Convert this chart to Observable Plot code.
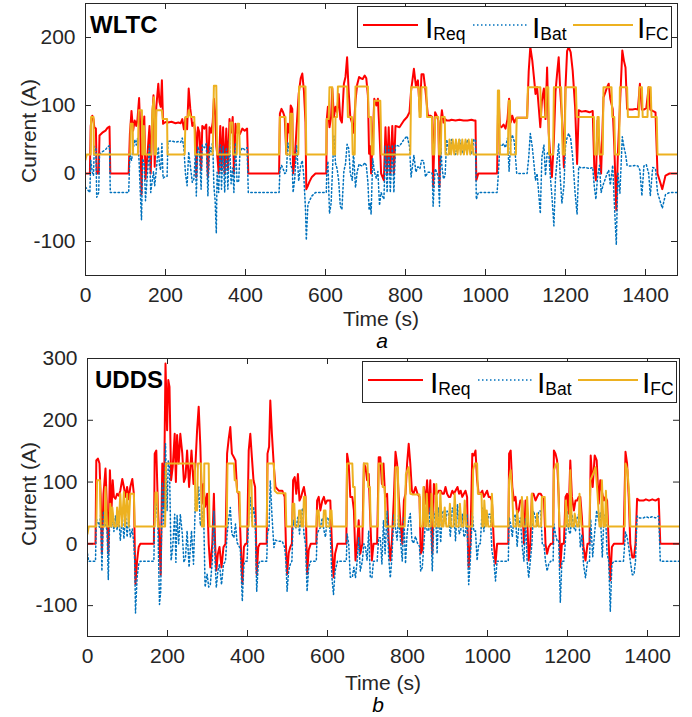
<!DOCTYPE html>
<html><head><meta charset="utf-8">
<script src="https://cdn.jsdelivr.net/npm/d3@7"></script>
<script src="https://cdn.jsdelivr.net/npm/@observablehq/plot@0.6"></script>
<style>
body{margin:0;background:#fff;}
#wrap{position:relative;width:692px;height:717px;overflow:hidden;background:#fff;}
</style></head><body><div id="wrap"></div>
<script>
// ---------- data (time s, current A) ----------
const xTicks = [0,200,400,600,800,1000,1200,1400];
const wltcYTicks = [-100,0,100,200];
const uddsYTicks = [-100,0,100,200,300];
const seriesNames = ["Req","Bat","FC"];
const panelTitles = ["WLTC","UDDS"];
const panelCaptions = ["a","b"];

const wltcReq = [[0,0],[11,0],[13,70],[17,85],[20,80],[22,68],[26,66],[28,0],[33,0],[35,56],[42,60],[50,63],[55,67],[60,69],[62,0],[108,0],[111,58],[115,92],[119,63],[123,78],[127,70],[130,80],[134,111],[137,65],[140,-30],[143,50],[147,84],[150,-8],[154,20],[160,70],[163,0],[167,83],[170,115],[173,10],[177,98],[182,132],[185,105],[188,98],[191,137],[194,73],[198,75],[204,76],[206,75],[215,76],[225,74],[232,75],[238,74],[242,80],[246,65],[250,82],[254,65],[258,125],[262,95],[267,70],[271,75],[275,60],[277,-5],[281,68],[285,60],[289,5],[292,70],[297,66],[302,72],[306,-5],[310,68],[314,60],[318,75],[321,110],[324,90],[327,40],[329,30],[333,0],[337,70],[340,5],[344,68],[348,0],[352,66],[356,5],[360,80],[364,60],[368,83],[371,0],[375,73],[379,60],[383,62],[386,58],[392,66],[398,63],[404,66],[407,0],[484,0],[486,88],[490,95],[494,90],[498,83],[502,29],[506,73],[510,60],[513,100],[517,95],[519,0],[523,20],[528,70],[533,117],[538,140],[542,147],[546,122],[550,75],[552,-23],[556,-18],[560,-12],[566,-5],[575,0],[602,0],[603,78],[606,98],[610,68],[614,83],[617,125],[621,83],[625,98],[629,90],[633,117],[637,80],[641,75],[646,132],[650,142],[654,171],[658,120],[662,83],[667,73],[670,60],[675,107],[679,130],[684,142],[688,140],[693,139],[698,144],[702,140],[706,115],[709,29],[712,40],[714,0],[718,50],[722,110],[727,100],[731,110],[735,60],[739,0],[746,-10],[750,68],[754,0],[758,68],[762,0],[767,70],[771,0],[775,70],[785,68],[796,78],[804,83],[810,90],[814,122],[821,154],[826,129],[831,137],[836,90],[840,146],[845,146],[850,122],[856,85],[862,85],[867,83],[869,-20],[874,90],[878,85],[882,78],[885,-20],[888,75],[891,93],[895,75],[899,80],[903,78],[910,78],[915,79],[925,78],[935,79],[945,78],[955,78],[965,79],[971,78],[975,78],[977,-10],[982,0],[1029,0],[1032,120],[1036,70],[1040,68],[1045,72],[1050,66],[1055,80],[1059,110],[1063,75],[1067,85],[1072,75],[1078,82],[1090,82],[1104,82],[1108,150],[1112,186],[1117,166],[1121,142],[1125,117],[1129,127],[1133,98],[1137,68],[1141,107],[1146,125],[1150,80],[1154,156],[1158,60],[1162,24],[1166,-5],[1171,50],[1175,120],[1179,147],[1183,171],[1187,120],[1191,83],[1196,9],[1200,127],[1204,180],[1208,186],[1213,178],[1218,151],[1224,98],[1229,14],[1233,93],[1240,91],[1250,92],[1260,90],[1268,92],[1272,9],[1276,-10],[1280,78],[1285,40],[1289,0],[1295,112],[1300,120],[1304,127],[1308,132],[1312,110],[1318,95],[1322,40],[1327,-54],[1331,30],[1336,98],[1342,181],[1346,166],[1350,156],[1354,95],[1360,94],[1368,94],[1375,95],[1381,94],[1386,132],[1391,94],[1396,94],[1402,96],[1408,127],[1412,94],[1418,92],[1425,90],[1430,0],[1442,-23],[1450,-3],[1460,0],[1480,0]];

const wltcBat = [[0,-20],[11,-28],[13,20],[17,2],[20,-3],[22,40],[26,38],[28,-35],[33,-28],[35,28],[42,32],[50,35],[55,39],[60,41],[62,-28],[108,-28],[111,30],[115,19],[119,35],[123,50],[127,42],[130,52],[134,18],[137,-28],[140,-68],[143,22],[147,14],[150,-40],[154,-8],[160,42],[163,-28],[167,-10],[170,3],[173,-18],[177,5],[182,39],[185,12],[188,5],[191,44],[194,-7],[198,-5],[204,-4],[206,47],[215,48],[225,46],[232,47],[238,46],[242,52],[246,37],[250,-1],[254,-18],[258,32],[262,12],[267,-13],[271,-8],[275,32],[277,-33],[281,40],[285,32],[289,-23],[292,42],[297,38],[302,44],[306,-33],[310,40],[314,32],[318,47],[321,-19],[324,-39],[327,-88],[329,2],[333,-28],[337,42],[340,-23],[344,40],[348,-28],[352,38],[356,-23],[360,52],[364,-15],[368,8],[371,-28],[375,45],[379,-13],[383,-11],[386,30],[392,38],[398,35],[404,38],[407,-28],[484,-28],[486,5],[490,12],[494,7],[498,0],[502,1],[506,45],[510,32],[513,12],[517,7],[519,-28],[523,-8],[528,42],[533,-11],[538,12],[542,19],[546,-6],[550,-53],[552,-98],[556,-46],[560,-40],[566,-33],[575,-28],[602,-28],[603,-2],[606,18],[610,-59],[614,-44],[617,-2],[621,55],[625,15],[629,7],[633,-11],[637,-48],[641,-53],[646,4],[650,14],[654,43],[658,37],[662,0],[667,-10],[670,32],[675,-21],[679,2],[684,14],[688,12],[693,11],[698,16],[702,12],[706,-13],[709,-54],[712,-43],[714,-60],[718,22],[722,3],[727,-7],[731,3],[735,-47],[739,-28],[746,-38],[750,40],[754,-28],[758,40],[762,-28],[767,42],[771,-28],[775,42],[785,40],[796,50],[804,55],[810,40],[814,-5],[821,27],[826,2],[831,10],[836,7],[840,19],[845,19],[850,-5],[856,2],[862,2],[867,0],[869,-48],[874,7],[878,2],[882,-5],[885,-48],[888,47],[891,10],[895,-8],[899,-3],[903,50],[910,28],[915,50],[925,28],[935,50],[945,28],[955,50],[965,28],[971,50],[975,50],[977,-38],[982,-28],[1029,-28],[1032,-2],[1036,42],[1040,40],[1045,44],[1050,38],[1055,52],[1059,3],[1063,47],[1067,57],[1072,47],[1078,0],[1090,0],[1104,0],[1108,23],[1112,59],[1117,39],[1121,15],[1125,-10],[1129,0],[1133,-29],[1137,-59],[1141,24],[1146,42],[1150,-3],[1154,29],[1158,32],[1162,-4],[1166,-33],[1171,-77],[1175,-7],[1179,20],[1183,44],[1187,-7],[1191,-44],[1196,-19],[1200,40],[1204,53],[1208,59],[1213,51],[1218,24],[1224,-29],[1229,-60],[1233,10],[1240,8],[1250,9],[1260,7],[1268,9],[1272,-19],[1276,-38],[1280,-5],[1285,12],[1289,-28],[1295,-15],[1300,-7],[1304,0],[1308,5],[1312,-17],[1318,12],[1322,-43],[1327,-105],[1331,2],[1336,-29],[1342,54],[1346,39],[1350,29],[1354,12],[1360,11],[1368,11],[1375,12],[1381,11],[1386,5],[1391,-33],[1396,11],[1402,13],[1408,0],[1412,-33],[1418,9],[1425,7],[1430,-28],[1442,-51],[1450,-31],[1460,-28],[1480,-28]];

const wltcFc = [[0,20],[3,28],[13,28],[14,83],[20,83],[21,28],[112,28],[113,73],[118,73],[119,28],[131,28],[133,93],[141,93],[142,28],[145,28],[146,70],[149,28],[165,28],[167,93],[171,112],[173,28],[176,28],[177,93],[191,93],[193,80],[204,80],[205,28],[248,28],[250,83],[256,83],[258,93],[263,83],[272,83],[274,28],[318,28],[321,129],[327,129],[329,28],[360,28],[362,75],[367,75],[369,28],[378,28],[380,73],[384,73],[386,28],[484,28],[486,83],[500,83],[502,28],[511,28],[512,88],[517,88],[518,28],[532,28],[534,128],[550,128],[552,28],[602,28],[603,80],[608,80],[610,127],[617,127],[619,28],[624,28],[625,83],[629,83],[631,128],[654,128],[656,83],[666,83],[668,28],[673,28],[675,128],[706,128],[708,83],[714,83],[716,28],[720,28],[722,107],[737,107],[740,28],[812,28],[814,127],[833,127],[835,83],[838,83],[840,127],[852,127],[854,83],[866,83],[868,28],[872,28],[874,83],[882,83],[884,28],[888,28],[890,83],[898,83],[900,28],[908,28],[910,50],[914,28],[918,50],[922,28],[926,50],[930,28],[934,50],[938,28],[942,50],[946,28],[950,50],[954,28],[958,50],[962,28],[966,50],[970,28],[1029,28],[1031,122],[1034,122],[1036,28],[1056,28],[1058,107],[1061,107],[1063,28],[1076,28],[1078,82],[1104,82],[1106,127],[1137,127],[1139,83],[1150,83],[1152,127],[1157,127],[1159,28],[1169,28],[1171,127],[1189,127],[1191,83],[1193,28],[1198,28],[1200,127],[1226,127],[1228,83],[1271,83],[1273,28],[1278,28],[1280,83],[1283,83],[1285,28],[1293,28],[1295,127],[1315,127],[1317,83],[1322,83],[1324,28],[1334,28],[1336,127],[1354,127],[1356,83],[1383,83],[1385,127],[1391,127],[1393,83],[1405,83],[1407,127],[1413,127],[1415,83],[1428,83],[1430,28],[1480,28]];

const uddsReq = [[0,0],[3,0],[20,0],[22,135],[26,138],[30,130],[33,76],[36,-16],[40,81],[45,122],[49,50],[52,-16],[56,119],[60,54],[63,103],[66,76],[70,73],[74,81],[78,78],[82,86],[87,105],[91,92],[95,76],[99,92],[103,72],[107,92],[112,105],[116,80],[118,0],[120,-65],[124,-27],[128,-5],[132,0],[166,0],[168,146],[172,151],[176,60],[180,0],[183,-50],[187,130],[191,60],[195,292],[199,184],[202,265],[205,254],[209,103],[213,124],[218,178],[221,100],[224,176],[228,130],[232,178],[237,146],[241,100],[245,108],[249,151],[254,92],[260,151],[265,97],[270,130],[274,184],[278,222],[282,160],[286,65],[290,97],[294,60],[299,81],[303,0],[307,-38],[312,0],[316,81],[319,0],[322,-43],[326,-16],[330,-5],[335,-38],[340,-5],[345,0],[349,146],[353,170],[357,189],[361,146],[366,140],[370,135],[374,86],[378,81],[382,20],[387,-65],[391,-5],[395,0],[399,0],[403,151],[407,178],[411,140],[415,103],[419,92],[423,-49],[427,-5],[431,0],[448,0],[450,146],[454,157],[457,232],[461,178],[466,124],[470,92],[478,86],[487,86],[493,76],[496,0],[499,-49],[503,-15],[507,-5],[511,0],[514,103],[518,108],[522,81],[526,113],[530,70],[534,76],[538,86],[541,92],[545,76],[549,-49],[553,-10],[558,0],[572,0],[574,70],[578,76],[582,54],[587,70],[591,76],[595,65],[599,70],[603,70],[607,70],[611,0],[615,-54],[619,-16],[625,0],[647,0],[649,146],[653,130],[657,76],[662,76],[666,54],[670,-27],[674,0],[678,38],[682,-16],[687,0],[691,130],[695,124],[699,103],[703,113],[707,38],[711,-27],[715,0],[724,0],[728,140],[732,140],[736,97],[740,130],[744,76],[749,81],[753,5],[757,-27],[761,5],[766,76],[770,149],[774,130],[778,76],[782,38],[787,0],[791,70],[795,81],[799,130],[803,162],[807,130],[811,86],[815,81],[820,92],[825,81],[830,76],[833,-16],[837,-10],[841,92],[845,65],[849,103],[853,49],[857,103],[862,-16],[866,97],[870,81],[874,81],[878,86],[883,86],[887,81],[891,81],[895,92],[899,81],[903,76],[907,76],[912,86],[916,81],[920,86],[925,92],[929,81],[933,86],[937,76],[941,81],[945,86],[949,76],[951,0],[953,-38],[957,0],[962,146],[966,143],[970,151],[974,103],[978,81],[982,81],[987,86],[991,76],[995,81],[999,86],[1003,76],[1007,76],[1011,70],[1016,0],[1020,-32],[1024,0],[1052,0],[1054,146],[1058,151],[1062,92],[1066,70],[1070,76],[1074,49],[1078,54],[1082,70],[1087,70],[1091,0],[1095,70],[1099,49],[1103,-27],[1107,0],[1111,81],[1115,81],[1120,70],[1124,76],[1128,81],[1133,81],[1137,76],[1141,76],[1145,0],[1149,-16],[1153,-5],[1158,0],[1164,0],[1166,151],[1170,146],[1174,135],[1178,76],[1182,-38],[1186,0],[1191,0],[1195,76],[1199,81],[1203,49],[1207,135],[1211,76],[1216,54],[1220,70],[1224,70],[1228,76],[1232,76],[1236,43],[1240,-5],[1245,-27],[1250,0],[1255,0],[1258,143],[1263,92],[1268,143],[1273,135],[1278,65],[1282,103],[1287,81],[1291,70],[1295,76],[1299,70],[1303,0],[1307,-59],[1311,-5],[1316,0],[1340,0],[1345,149],[1349,130],[1353,76],[1357,0],[1362,-22],[1366,-22],[1370,0],[1374,73],[1380,70],[1390,70],[1396,72],[1404,70],[1412,72],[1420,70],[1428,73],[1432,0],[1436,0],[1480,0]];

const uddsBat = [[0,-16],[3,-28],[20,-28],[22,40],[26,35],[30,27],[33,48],[36,-44],[40,53],[45,30],[49,22],[52,-58],[56,54],[60,26],[63,44],[66,20],[70,45],[74,22],[78,50],[82,5],[87,45],[91,8],[95,48],[99,11],[103,44],[107,11],[112,24],[116,-1],[118,-28],[120,-112],[124,-55],[128,-33],[132,-28],[166,-28],[168,63],[172,68],[176,32],[180,-98],[183,-78],[187,100],[191,32],[195,162],[199,54],[202,135],[205,124],[209,-27],[213,-6],[218,48],[221,-30],[224,46],[228,0],[232,48],[237,16],[241,-30],[245,-22],[249,21],[254,-38],[260,21],[265,-33],[270,76],[274,54],[278,92],[282,30],[286,37],[290,60],[294,-70],[299,-49],[303,-70],[307,-66],[312,-28],[316,53],[319,-28],[322,-71],[326,-44],[330,-33],[335,-66],[340,-33],[345,-28],[349,16],[353,40],[357,59],[361,16],[366,10],[370,32],[374,2],[378,-3],[382,-8],[387,-93],[391,-33],[395,-28],[399,-28],[403,48],[407,75],[411,37],[415,60],[419,40],[423,-77],[427,-33],[431,-28],[448,-28],[450,16],[454,27],[457,102],[461,48],[466,-6],[470,6],[478,4],[487,4],[493,-6],[496,-28],[499,-77],[503,-43],[507,-33],[511,-28],[514,38],[518,30],[522,25],[526,45],[530,16],[534,48],[538,58],[541,16],[545,0],[549,-77],[553,-38],[558,-28],[572,-28],[574,16],[578,22],[582,26],[587,42],[591,22],[595,11],[599,42],[603,42],[607,16],[611,-54],[615,-82],[619,-44],[625,-28],[647,-28],[649,16],[653,0],[657,-54],[662,-54],[666,-38],[670,-55],[674,-28],[678,10],[682,-44],[687,-28],[691,0],[695,-6],[699,-27],[703,21],[707,-54],[711,-55],[715,-28],[724,-28],[728,10],[732,10],[736,-33],[740,38],[744,-16],[749,53],[753,-23],[757,-55],[761,-23],[766,48],[770,25],[774,6],[778,48],[782,10],[787,-28],[791,42],[795,-32],[799,17],[803,38],[807,49],[811,6],[815,1],[820,12],[825,1],[830,-4],[833,-44],[837,-38],[841,0],[845,37],[849,22],[853,21],[857,60],[862,-44],[866,40],[870,53],[874,-16],[878,58],[883,2],[887,53],[891,53],[895,33],[899,53],[903,48],[907,11],[912,58],[916,53],[920,5],[925,64],[929,16],[933,21],[937,48],[941,11],[945,16],[949,48],[951,-28],[953,-66],[957,-28],[962,50],[966,20],[970,21],[974,-27],[978,0],[982,0],[987,58],[991,20],[995,53],[999,32],[1003,48],[1007,48],[1011,-11],[1016,-28],[1020,-60],[1024,-28],[1052,-28],[1054,43],[1058,32],[1062,11],[1066,42],[1070,48],[1074,-5],[1078,26],[1082,42],[1087,-6],[1091,-28],[1095,42],[1099,-27],[1103,-55],[1107,-28],[1111,0],[1115,53],[1120,42],[1124,27],[1128,53],[1133,53],[1137,0],[1141,0],[1145,-28],[1149,-44],[1153,-33],[1158,-28],[1164,-28],[1166,32],[1170,16],[1174,5],[1178,6],[1182,-95],[1186,-28],[1191,-28],[1195,6],[1199,53],[1203,21],[1207,16],[1211,48],[1216,26],[1220,21],[1224,42],[1228,48],[1232,-5],[1236,15],[1240,-33],[1245,-55],[1250,-28],[1255,-28],[1258,40],[1263,-21],[1268,19],[1273,54],[1278,37],[1282,50],[1287,-22],[1291,42],[1295,48],[1299,-16],[1303,-28],[1307,-110],[1311,-33],[1316,-28],[1340,-28],[1345,19],[1349,11],[1353,-5],[1357,-28],[1362,-50],[1366,-50],[1370,-28],[1374,45],[1380,42],[1390,42],[1396,44],[1404,42],[1412,44],[1420,42],[1428,45],[1432,-28],[1436,-28],[1480,-28]];

const uddsFc = [[0,16],[3,28],[22,28],[24,103],[31,103],[33,28],[43,28],[45,92],[49,28],[55,28],[57,65],[60,28],[62,59],[67,28],[72,28],[74,59],[78,28],[82,81],[86,28],[91,84],[94,28],[99,81],[103,28],[107,81],[116,81],[118,28],[168,28],[170,83],[174,83],[176,28],[194,28],[196,130],[268,130],[270,54],[274,54],[276,130],[284,130],[286,28],[291,28],[292,130],[303,130],[305,28],[348,28],[350,130],[366,130],[368,103],[372,103],[374,84],[380,84],[382,28],[403,28],[405,103],[410,103],[412,28],[448,28],[450,130],[466,130],[468,86],[474,82],[495,82],[497,28],[511,28],[513,65],[517,65],[519,28],[527,28],[529,54],[533,54],[535,28],[539,28],[541,76],[545,76],[547,28],[572,28],[574,54],[578,54],[580,28],[589,28],[591,54],[595,54],[597,28],[605,28],[607,54],[610,54],[612,28],[647,28],[649,130],[662,130],[664,92],[668,92],[670,28],[689,28],[691,130],[700,130],[702,92],[706,92],[708,28],[726,28],[728,130],[736,130],[738,92],[743,92],[745,28],[768,28],[770,124],[776,124],[778,28],[793,28],[796,113],[803,124],[807,81],[812,80],[830,80],[832,28],[838,28],[840,92],[844,28],[846,28],[848,81],[852,28],[858,28],[860,81],[865,28],[870,28],[872,97],[876,28],[880,28],[882,84],[886,28],[890,28],[893,59],[897,28],[903,28],[906,65],[909,28],[915,28],[918,81],[922,28],[928,28],[931,65],[935,28],[940,28],[943,70],[947,28],[962,28],[964,119],[968,130],[974,130],[976,81],[985,81],[987,28],[990,28],[992,70],[996,28],[998,54],[1002,28],[1009,28],[1011,81],[1015,28],[1052,28],[1054,103],[1058,119],[1062,81],[1065,28],[1072,28],[1074,54],[1078,28],[1084,28],[1086,76],[1090,28],[1097,28],[1099,76],[1103,28],[1109,28],[1111,81],[1115,28],[1122,28],[1124,49],[1128,28],[1134,28],[1136,76],[1143,76],[1145,28],[1164,28],[1166,119],[1172,130],[1176,130],[1178,70],[1180,28],[1194,28],[1196,70],[1200,28],[1205,28],[1207,119],[1211,28],[1216,28],[1218,49],[1224,28],[1228,28],[1230,81],[1235,28],[1255,28],[1257,103],[1264,113],[1270,124],[1275,81],[1280,28],[1284,28],[1286,103],[1290,28],[1294,28],[1296,86],[1300,28],[1343,28],[1345,130],[1350,119],[1354,81],[1357,28],[1480,28]];

// ---------- drawing ----------
const W = 692;
const FONT = "'Liberation Sans', Arial, Helvetica, sans-serif";
const INK = "#262626";
const COLORS = {Req: "#ff0000", Bat: "#0072bd", FC: "#edb120"};
const wrap = document.getElementById("wrap");

function panel(o) {
  const fw = W - o.ml - o.mr, fh = o.h - o.mt - o.mb;
  const X = d => d[0], Y = d => d[1];
  const p = Plot.plot({
    width: W, height: o.h,
    marginLeft: o.ml, marginRight: o.mr, marginTop: o.mt, marginBottom: o.mb,
    x: {domain: [0, 1480]},
    y: {domain: o.yDomain},
    style: {fontFamily: FONT, fontSize: "21px", color: INK, background: "transparent", overflow: "visible"},
    marks: [
      Plot.line(o.req, {x: X, y: Y, stroke: COLORS.Req, strokeWidth: 2, strokeLinejoin: "round", clip: true}),
      Plot.line(o.bat, {x: X, y: Y, stroke: COLORS.Bat, strokeWidth: 1.5, strokeDasharray: "1.5,2.5", clip: true}),
      Plot.line(o.fc, {x: X, y: Y, stroke: COLORS.FC, strokeWidth: 2, strokeLinejoin: "round", clip: true}),
      Plot.frame({stroke: INK, strokeWidth: 1}),
      Plot.axisX({ticks: xTicks, tickSize: 0, tickPadding: 12, tickFormat: d => String(d), label: null, fill: INK}),
      Plot.axisY({ticks: o.yTicks, tickSize: 0, tickPadding: 10, tickFormat: d => String(d), label: null, fill: INK}),
      Plot.tickX(xTicks, {x: d => d, insetTop: fh - 6, stroke: INK}),
      Plot.tickX(xTicks, {x: d => d, insetBottom: fh - 6, stroke: INK}),
      Plot.tickY(o.yTicks, {y: d => d, insetRight: fw - 6, stroke: INK}),
      Plot.tickY(o.yTicks, {y: d => d, insetLeft: fw - 6, stroke: INK})
    ]
  });
  p.style.position = "absolute";
  p.style.left = "0px";
  p.style.top = o.top + "px";
  wrap.appendChild(p);
}

panel({req: wltcReq, bat: wltcBat, fc: wltcFc, yDomain: [-150, 250], yTicks: wltcYTicks,
       top: 0, h: 310, mt: 3, mb: 35, ml: 85, mr: 15});
panel({req: uddsReq, bat: uddsBat, fc: uddsFc, yDomain: [-150, 300], yTicks: uddsYTicks,
       top: 345, h: 330, mt: 13, mb: 39, ml: 87, mr: 13});

// ---------- overlay: titles, axis labels, captions, legends ----------
function legend(x0, y0) {
  const items = [
    {k: "Req", x1: 6, x2: 61, tx: 68, dash: null},
    {k: "Bat", x1: 116, x2: 170, tx: 175, dash: "1.5,2.5"},
    {k: "FC", x1: 216, x2: 276, tx: 280, dash: null}
  ];
  let s = `<rect x="${x0+0.5}" y="${y0+0.5}" width="314" height="41" fill="#fff" stroke="${INK}" stroke-width="1"/>`;
  for (const it of items) {
    s += `<line x1="${x0+it.x1}" x2="${x0+it.x2}" y1="${y0+19}" y2="${y0+19}" stroke="${COLORS[it.k]}" stroke-width="${it.dash ? 1.5 : 2}" ${it.dash ? `stroke-dasharray="${it.dash}"` : ""}/>`;
    s += `<text x="${x0+it.tx}" y="${y0+32}" font-size="30" fill="#000">I<tspan font-size="17.5" dy="2">${it.k}</tspan></text>`;
  }
  return s;
}

const ov = `
<svg width="692" height="717" style="position:absolute;left:0;top:0;overflow:visible" font-family="${FONT}">
  <text x="90" y="33" font-size="24" font-weight="bold" fill="#000">${panelTitles[0]}</text>
  <text x="95" y="388" font-size="24" font-weight="bold" fill="#000">${panelTitles[1]}</text>
  <text transform="translate(36,131) rotate(-90)" text-anchor="middle" font-size="21" fill="${INK}">Current (A)</text>
  <text transform="translate(36,494) rotate(-90)" text-anchor="middle" font-size="21" fill="${INK}">Current (A)</text>
  <text x="381" y="326" text-anchor="middle" font-size="21" fill="${INK}">Time (s)</text>
  <text x="383" y="690" text-anchor="middle" font-size="21" fill="${INK}">Time (s)</text>
  <text x="382" y="348" text-anchor="middle" font-size="21" font-style="italic" fill="#000">${panelCaptions[0]}</text>
  <text x="378" y="712" text-anchor="middle" font-size="21" font-style="italic" fill="#000">${panelCaptions[1]}</text>
  ${legend(357, 6)}
  ${legend(362, 361)}
</svg>`;
wrap.insertAdjacentHTML("beforeend", ov);
</script>
</body></html>
